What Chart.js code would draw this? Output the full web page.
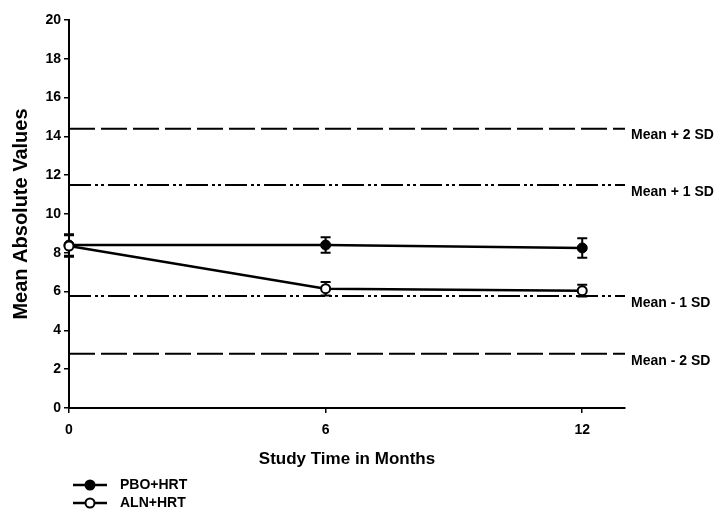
<!DOCTYPE html>
<html>
<head>
<meta charset="utf-8">
<script src="https://cdn.jsdelivr.net/npm/chart.js@4.4.1/dist/chart.umd.min.js"></script>
<style>
  html, body { margin: 0; padding: 0; background: #fff; }
  #wrap { width: 722px; height: 513px; }
</style>
</head>
<body>
<div id="wrap"><canvas id="chart" width="722" height="513"></canvas></div>
<script>
// données
const months = [0, 6, 12];
const xTicks = [0, 6, 12];
const yTicks = [0, 2, 4, 6, 8, 10, 12, 14, 16, 18, 20];

const pboLabel = 'PBO+HRT';
const pboValues = [8.4, 8.4, 8.25];
const pboErrors = [0.55, 0.4, 0.5];

const alnLabel = 'ALN+HRT';
const alnValues = [8.35, 6.15, 6.05];
const alnErrors = [0.55, 0.35, 0.3];

const refLabels = ['Mean + 2 SD', 'Mean + 1 SD', 'Mean - 1 SD', 'Mean - 2 SD'];
const refValues = [14.4, 11.5, 5.77, 2.8];
const refXRange = [0, 13];

const FONT = '"Liberation Sans", Arial, sans-serif';
const longDash = [26, 6];
const dashDotDot = [22, 4, 3, 3, 3, 4];

const seriesSets = [
    {
        label: pboLabel,
        data: months.map((m, i) => ({ x: m, y: pboValues[i] })),
        errors: pboErrors,
        borderColor: '#000',
        borderWidth: 2.5,
        pointRadius: 5,
        pointBackgroundColor: '#000',
        pointBorderColor: '#000',
        pointBorderWidth: 1,
        filled: true,
        clip: false,
        order: 2
    },
    {
        label: alnLabel,
        data: months.map((m, i) => ({ x: m, y: alnValues[i] })),
        errors: alnErrors,
        borderColor: '#000',
        borderWidth: 2.5,
        pointRadius: 4.5,
        pointBackgroundColor: '#fff',
        pointBorderColor: '#000',
        pointBorderWidth: 2,
        filled: false,
        clip: false,
        order: 1
    }
];

const refSets = refValues.map((v, i) => ({
    label: refLabels[i],
    isRef: true,
    data: refXRange.map(x => ({ x: x, y: v })),
    borderColor: '#000',
    borderWidth: 2,
    borderDash: (i === 0 || i === 3) ? longDash : dashDotDot,
    pointRadius: 0,
    order: 3
}));

// barres d'erreur (avant les points pour que les cercles passent dessus)
const errorBars = {
    id: 'errorBars',
    beforeDatasetsDraw(chart) {
        const ctx = chart.ctx;
        const xs = chart.scales.x, ys = chart.scales.y;
        ctx.save();
        ctx.strokeStyle = '#000';
        ctx.lineWidth = 2;
        chart.data.datasets.forEach(ds => {
            if (!ds.errors) return;
            ds.data.forEach((p, i) => {
                const x = xs.getPixelForValue(p.x);
                const top = ys.getPixelForValue(p.y + ds.errors[i]);
                const bot = ys.getPixelForValue(p.y - ds.errors[i]);
                ctx.beginPath();
                ctx.moveTo(x, top); ctx.lineTo(x, bot);
                ctx.moveTo(x - 5, top); ctx.lineTo(x + 5, top);
                ctx.moveTo(x - 5, bot); ctx.lineTo(x + 5, bot);
                ctx.stroke();
            });
        });
        ctx.restore();
    }
};

// étiquettes Mean +/- SD à droite
const refText = {
    id: 'refText',
    afterDatasetsDraw(chart) {
        const ctx = chart.ctx;
        const ys = chart.scales.y;
        ctx.save();
        ctx.fillStyle = '#000';
        ctx.font = 'bold 14px ' + FONT;
        ctx.textAlign = 'left';
        ctx.textBaseline = 'middle';
        chart.data.datasets.forEach(ds => {
            if (!ds.isRef) return;
            const y = ys.getPixelForValue(ds.data[0].y);
            ctx.fillText(ds.label, chart.chartArea.right + 6, y + 7);
        });
        ctx.restore();
    }
};

// légende en bas à gauche, une ligne par série
const miniLegend = {
    id: 'miniLegend',
    afterDraw(chart) {
        const ctx = chart.ctx;
        const left = chart.chartArea.left;
        ctx.save();
        ctx.font = 'bold 14px ' + FONT;
        ctx.textBaseline = 'middle';
        ctx.fillStyle = '#000';
        ctx.strokeStyle = '#000';
        chart.data.datasets.filter(ds => !ds.isRef).forEach((ds, i) => {
            const y = chart.height - 28 + i * 18;
            ctx.lineWidth = 2.5;
            ctx.beginPath();
            ctx.moveTo(left + 4, y); ctx.lineTo(left + 38, y);
            ctx.stroke();
            ctx.beginPath();
            ctx.arc(left + 21, y, 4.5, 0, Math.PI * 2);
            ctx.fillStyle = ds.filled ? '#000' : '#fff';
            ctx.fill();
            ctx.lineWidth = 2;
            ctx.stroke();
            ctx.fillStyle = '#000';
            ctx.fillText(ds.label, left + 51, y);
        });
        ctx.restore();
    }
};

new Chart(document.getElementById('chart'), {
    type: 'line',
    data: { datasets: seriesSets.concat(refSets) },
    plugins: [errorBars, refText, miniLegend],
    options: {
        responsive: false,
        animation: false,
        layout: { padding: { left: 5, right: 97, top: 20, bottom: 39 } },
        plugins: {
            legend: { display: false },
            tooltip: { enabled: false }
        },
        elements: { line: { tension: 0 } },
        scales: {
            x: {
                type: 'linear',
                min: 0,
                max: 13,
                afterBuildTicks: s => { s.ticks = xTicks.map(v => ({ value: v })); },
                afterFit: s => { s.height = 66; },
                grid: { drawOnChartArea: false, drawTicks: true, tickLength: 5, color: '#000', lineWidth: 1.5 },
                border: { display: true, color: '#000', width: 2 },
                ticks: { color: '#000', padding: 9, font: { family: FONT, size: 14, weight: 'bold' } },
                title: { display: true, text: 'Study Time in Months', color: '#000', font: { family: FONT, size: 17, weight: 'bold' } }
            },
            y: {
                min: 0,
                max: 20,
                afterBuildTicks: s => { s.ticks = yTicks.map(v => ({ value: v })); },
                afterFit: s => { s.width = 64; },
                grid: { drawOnChartArea: false, drawTicks: true, tickLength: 5, color: '#000', lineWidth: 1.5 },
                border: { display: true, color: '#000', width: 2 },
                ticks: { color: '#000', padding: 3, font: { family: FONT, size: 14, weight: 'bold' } },
                title: { display: true, text: 'Mean Absolute Values', color: '#000', font: { family: FONT, size: 20, weight: 'bold' } }
            }
        }
    }
});
</script>
</body>
</html>
